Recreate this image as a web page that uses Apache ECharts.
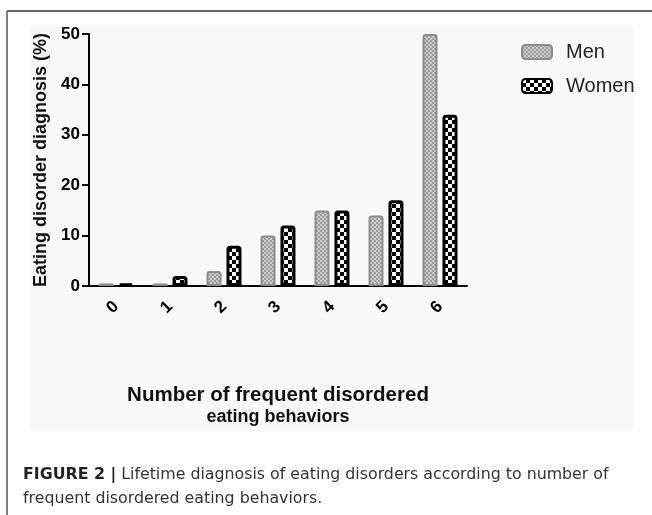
<!DOCTYPE html>
<html>
<head>
<meta charset="utf-8">
<script src="https://cdn.jsdelivr.net/npm/echarts@6/dist/echarts.min.js"></script>
<style>
html,body{margin:0;padding:0;background:#fff;}
#c{width:652px;height:515px;}
</style>
</head>
<body>
<div id="c"></div>
<script>
var categories = ['0', '1', '2', '3', '4', '5', '6'];
var menValues = [0.5, 0.5, 3, 10, 15, 14, 50];
var womenValues = [0.5, 2, 8, 12, 15, 17, 34];
var yTicks = [0, 10, 20, 30, 40, 50];
var seriesNames = ['Men', 'Women'];

function makePattern(bg, fg, size, sq) {
  var c = document.createElement('canvas');
  c.width = size; c.height = size;
  var g = c.getContext('2d');
  g.fillStyle = bg; g.fillRect(0, 0, size, size);
  g.fillStyle = fg;
  g.fillRect(0, 0, sq, sq);
  g.fillRect(sq, sq, sq, sq);
  return c;
}
var menPat = makePattern('#9c9c9c', '#cdcdcd', 4, 2);
var womenPat = makePattern('#000000', '#ffffff', 8, 4);
var FONT = '"Liberation Sans", Arial, sans-serif';

var chart = echarts.init(document.getElementById('c'), null, {renderer: 'canvas'});
chart.setOption({
  animation: false,
  backgroundColor: '#ffffff',
  graphic: [
    {type: 'rect', z: -10, shape: {x: 30, y: 26, width: 604, height: 404}, style: {fill: '#f9f9f9'}},
    {type: 'line', shape: {x1: 7, y1: 11, x2: 652, y2: 11}, style: {stroke: '#333', lineWidth: 1.5}},
    {type: 'line', shape: {x1: 7, y1: 11, x2: 7, y2: 515}, style: {stroke: '#555', lineWidth: 1.5}},
    {type: 'text', left: 23, top: 463, style: {
      text: '{b|FIGURE 2 |} Lifetime diagnosis of eating disorders according to number of\nfrequent disordered eating behaviors.',
      font: '15.8px "DejaVu Sans", sans-serif', fill: '#333', lineHeight: 24,
      rich: {b: {fontWeight: 'bold', fontSize: 15.8, fontFamily: '"DejaVu Sans", sans-serif', fill: '#222'}}
    }}
  ],
  legend: {
    data: seriesNames,
    orient: 'vertical',
    left: 516, top: 37,
    itemWidth: 30, itemHeight: 14, itemGap: 14,
    textStyle: {fontSize: 20, color: '#222', fontFamily: FONT, padding: [0, 0, 0, 9]}
  },
  grid: {left: 89, right: 185, top: 34, bottom: 229, containLabel: false},
  xAxis: {
    type: 'category',
    data: categories,
    name: '{a|Number of frequent disordered}\n{b|eating behaviors}',
    nameLocation: 'middle',
    nameGap: 98,
    nameTextStyle: {fontSize: 18, fontWeight: 'bold', color: '#111', lineHeight: 22, fontFamily: FONT,
      rich: {
        a: {fontSize: 20.5, fontWeight: 'bold', color: '#111', lineHeight: 22, fontFamily: FONT},
        b: {fontSize: 18, fontWeight: 'bold', color: '#111', lineHeight: 22, fontFamily: FONT}
      }},
    axisLine: {lineStyle: {color: '#000', width: 2}},
    axisTick: {alignWithLabel: true, length: 7, lineStyle: {color: '#000', width: 2}},
    axisLabel: {rotate: 45, fontSize: 17, fontWeight: 'bold', color: '#000', margin: 18, fontFamily: FONT}
  },
  yAxis: {
    type: 'value',
    min: 0, max: 50, interval: 10,
    name: 'Eating disorder diagnosis (%)',
    nameLocation: 'middle',
    nameGap: 36,
    nameTextStyle: {fontSize: 18, fontWeight: 'bold', color: '#111', fontFamily: FONT},
    axisLine: {show: true, lineStyle: {color: '#000', width: 2}},
    axisTick: {show: true, length: 7, lineStyle: {color: '#000', width: 2}},
    splitLine: {show: false},
    axisLabel: {fontSize: 17, fontWeight: 'bold', color: '#000', margin: 9, fontFamily: FONT,
      formatter: function (v) { return yTicks.indexOf(v) >= 0 ? String(v) : ''; }}
  },
  series: [
    {name: seriesNames[0], type: 'bar', data: menValues, barWidth: 15, barGap: '33%',
      itemStyle: {color: {image: menPat, repeat: 'repeat'}, borderColor: '#8c8c8c', borderWidth: 2, borderRadius: [2, 2, 0, 0]}},
    {name: seriesNames[1], type: 'bar', data: womenValues, barWidth: 15,
      itemStyle: {color: {image: womenPat, repeat: 'repeat'}, borderColor: '#000', borderWidth: 3, borderRadius: [2, 2, 0, 0]}}
  ]
});
</script>
</body>
</html>
